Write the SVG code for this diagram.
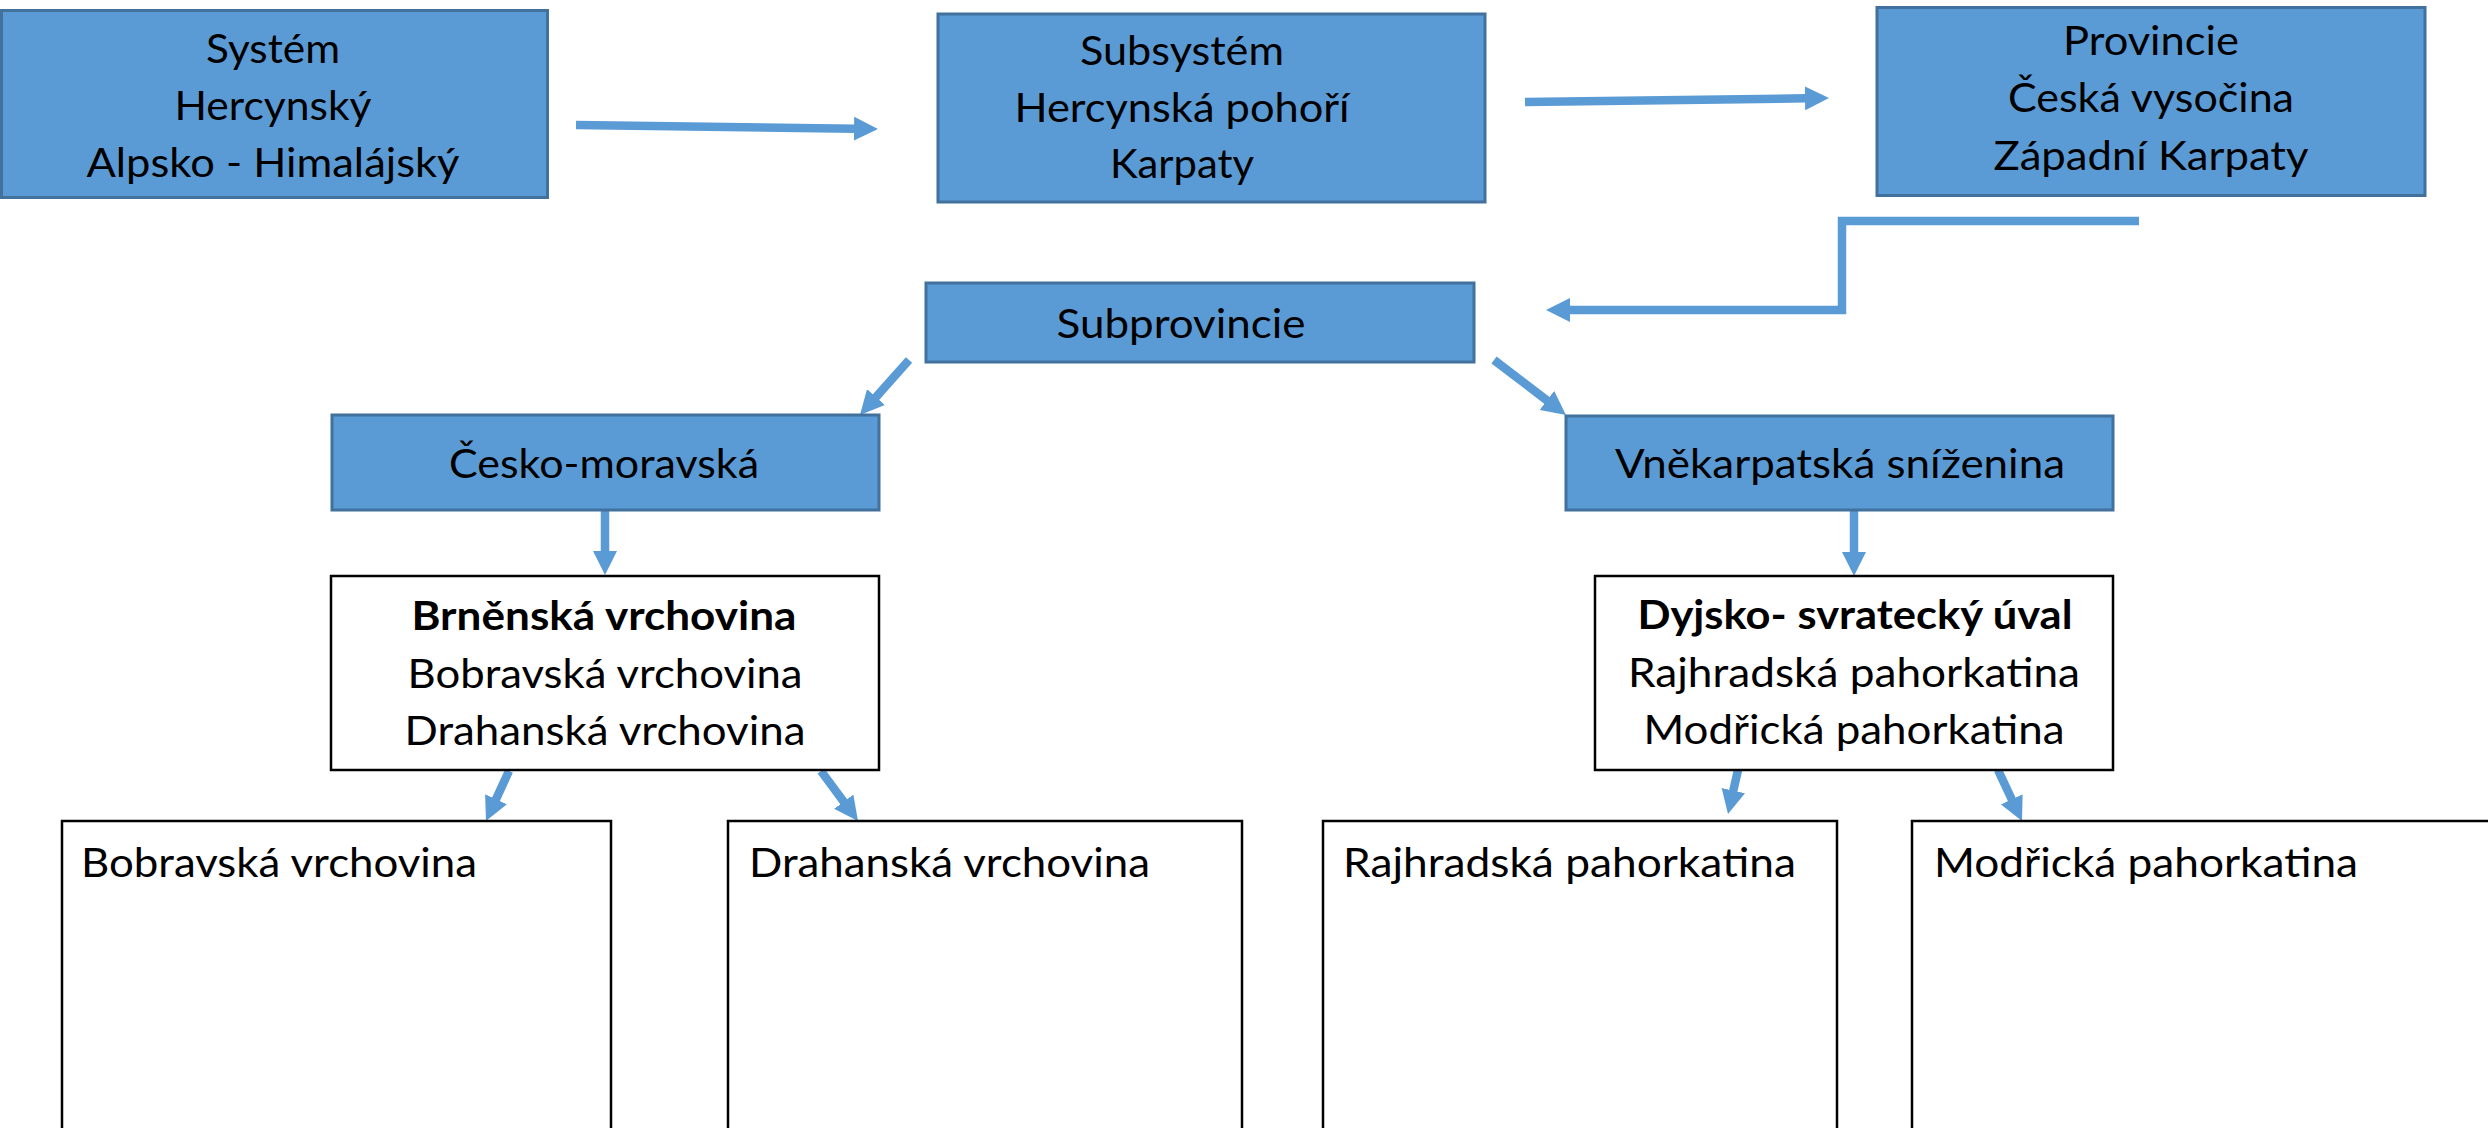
<svg xmlns="http://www.w3.org/2000/svg" width="2488" height="1128" viewBox="0 0 2488 1128">
<style>
.blue{fill:#5B9BD5;stroke:#41719C;stroke-width:3}
.white{fill:#FFFFFF;stroke:#000000;stroke-width:2.5}
.t{font-family:Lato,"Open Sans","Liberation Sans",sans-serif;font-size:40px;fill:#000000}
.c{text-anchor:middle}
.b{font-weight:bold}
.con{fill:none;stroke:#5B9BD5;stroke-width:8.5}
</style>
<defs>
<marker id="ah" markerUnits="userSpaceOnUse" markerWidth="26" markerHeight="24" refX="1" refY="12" orient="auto">
<path d="M0,0 L24,12 L0,24 Z" fill="#5B9BD5"/>
</marker>
</defs>
<rect width="2488" height="1128" fill="#FFFFFF"/>

<g id="connectors">
<path class="con" marker-end="url(#ah)" d="M576,125 L855,128.7"/>
<path class="con" marker-end="url(#ah)" d="M1525,102 L1806,98.3"/>
<path class="con" marker-end="url(#ah)" d="M2139,221 H1842 V310 H1569"/>
<path class="con" marker-end="url(#ah)" d="M909,360 L875.3,397.8"/>
<path class="con" marker-end="url(#ah)" d="M1494,360 L1547.7,401"/>
<path class="con" marker-end="url(#ah)" d="M605,510 L605,552"/>
<path class="con" marker-end="url(#ah)" d="M1854,510 L1854,553"/>
<path class="con" marker-end="url(#ah)" d="M509,771 L495.6,800.1"/>
<path class="con" marker-end="url(#ah)" d="M821,771 L844.3,802.5"/>
<path class="con" marker-end="url(#ah)" d="M1738,770 L1733.1,791.6"/>
<path class="con" marker-end="url(#ah)" d="M1998,770 L2012.2,800.2"/>
</g>

<g id="system">
<rect class="blue" x="1.5" y="10.5" width="546" height="187"/>
<text class="t c" x="273" y="63" textLength="134" lengthAdjust="spacingAndGlyphs">Systém</text>
<text class="t c" x="273" y="120" textLength="197" lengthAdjust="spacingAndGlyphs">Hercynský</text>
<text class="t c" x="273" y="177" textLength="373" lengthAdjust="spacingAndGlyphs">Alpsko - Himalájský</text>
</g>

<g id="subsystem">
<rect class="blue" x="938" y="14" width="547" height="188"/>
<text class="t c" x="1182" y="65" textLength="204" lengthAdjust="spacingAndGlyphs">Subsystém</text>
<text class="t c" x="1182" y="122" textLength="335" lengthAdjust="spacingAndGlyphs">Hercynská pohoří</text>
<text class="t c" x="1182" y="178" textLength="144" lengthAdjust="spacingAndGlyphs">Karpaty</text>
</g>

<g id="provincie">
<rect class="blue" x="1877" y="7.5" width="548" height="188"/>
<text class="t c" x="2151" y="55" textLength="176" lengthAdjust="spacingAndGlyphs">Provincie</text>
<text class="t c" x="2151" y="112" textLength="286" lengthAdjust="spacingAndGlyphs">Česká vysočina</text>
<text class="t c" x="2151" y="170" textLength="315" lengthAdjust="spacingAndGlyphs">Západní Karpaty</text>
</g>

<g id="subprovincie">
<rect class="blue" x="926" y="283" width="548" height="79"/>
<text class="t c" x="1181" y="338" textLength="249" lengthAdjust="spacingAndGlyphs">Subprovincie</text>
</g>

<g id="cesko-moravska">
<rect class="blue" x="332" y="415" width="547" height="95"/>
<text class="t c" x="604" y="478" textLength="310" lengthAdjust="spacingAndGlyphs">Česko-moravská</text>
</g>

<g id="vnekarpatska">
<rect class="blue" x="1566" y="416" width="547" height="94"/>
<text class="t c" x="1840" y="478" textLength="450" lengthAdjust="spacingAndGlyphs">Vněkarpatská sníženina</text>
</g>

<g id="brnenska">
<rect class="white" x="331" y="576" width="548" height="194"/>
<text class="t c b" x="604" y="630" textLength="385" lengthAdjust="spacingAndGlyphs">Brněnská vrchovina</text>
<text class="t c" x="605" y="688" textLength="395" lengthAdjust="spacingAndGlyphs">Bobravská vrchovina</text>
<text class="t c" x="605" y="745" textLength="401" lengthAdjust="spacingAndGlyphs">Drahanská vrchovina</text>
</g>

<g id="dyjsko">
<rect class="white" x="1595" y="576" width="518" height="194"/>
<text class="t c b" x="1855" y="629" textLength="435" lengthAdjust="spacingAndGlyphs">Dyjsko- svratecký úval</text>
<text class="t c" x="1854" y="687" textLength="452" lengthAdjust="spacingAndGlyphs">Rajhradská pahorkatina</text>
<text class="t c" x="1854" y="744" textLength="421" lengthAdjust="spacingAndGlyphs">Modřická pahorkatina</text>
</g>

<g id="bobravska">
<rect class="white" x="62" y="821" width="549" height="330"/>
<text class="t" x="81" y="877" textLength="396" lengthAdjust="spacingAndGlyphs">Bobravská vrchovina</text>
</g>

<g id="drahanska">
<rect class="white" x="728" y="821" width="514" height="330"/>
<text class="t" x="749" y="877" textLength="401" lengthAdjust="spacingAndGlyphs">Drahanská vrchovina</text>
</g>

<g id="rajhradska">
<rect class="white" x="1323" y="821" width="514" height="330"/>
<text class="t" x="1343" y="877" textLength="453" lengthAdjust="spacingAndGlyphs">Rajhradská pahorkatina</text>
</g>

<g id="modricka">
<rect class="white" x="1912" y="821" width="600" height="330"/>
<text class="t" x="1934" y="877" textLength="424" lengthAdjust="spacingAndGlyphs">Modřická pahorkatina</text>
</g>
</svg>
